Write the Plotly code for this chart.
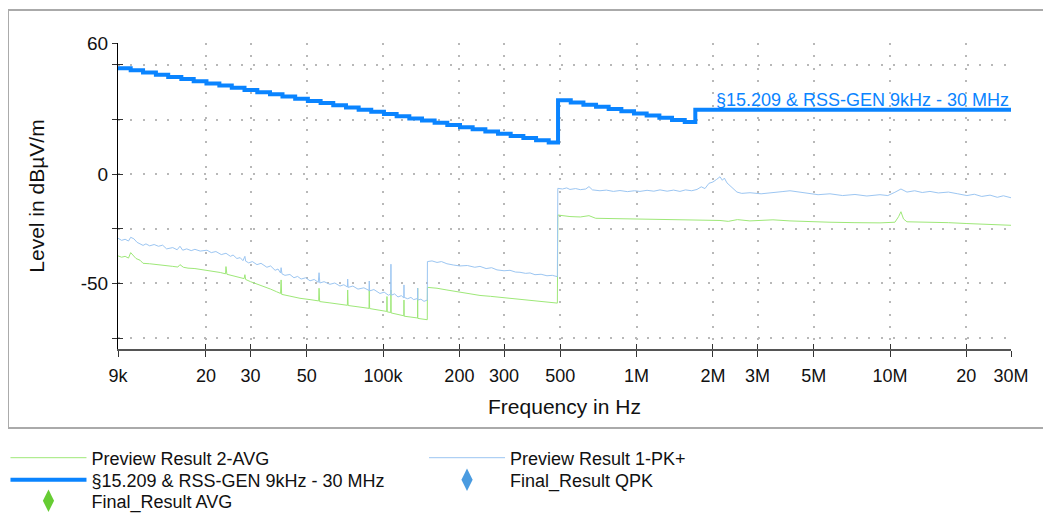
import math
import plotly.graph_objects as go

# ---------------- data ----------------
x_tick_hz = [9e3, 2e4, 3e4, 5e4, 1e5, 2e5, 3e5, 5e5, 1e6, 2e6, 3e6, 5e6, 1e7, 2e7, 3e7]
x_tick_text = ["9k", "20", "30", "50", "100k", "200", "300", "500", "1M", "2M", "3M", "5M", "10M", "20", "30M"]
y_tick_vals = [-75, -50, -25, 0, 25, 50, 60]
y_tick_text = ["", "-50", "", "0", "", "", "60"]

limit_name = "§15.209 & RSS-GEN 9kHz - 30 MHz"
limit_freq_khz = [9, 10.1, 11.3, 12.7, 14.2, 16.0, 17.9, 20.1, 22.6, 25.3, 28.4, 31.9, 35.8, 40.1,
                  45.0, 50.5, 56.7, 63.6, 71.4, 80.1, 89.8, 100.8, 113.1, 126.9, 142.4, 159.7, 179.2,
                  201.1, 225.6, 253.2, 284.1, 318.7, 357.6, 401.3, 450.2,
                  490, 550, 617, 692, 776, 871, 977, 1096, 1230, 1380, 1549,
                  1705, 30000]
limit_level = [48.5, 47.5, 46.5, 45.5, 44.5, 43.5, 42.5, 41.5, 40.5, 39.5, 38.5, 37.5, 36.5, 35.5,
               34.5, 33.5, 32.5, 31.5, 30.5, 29.5, 28.5, 27.5, 26.5, 25.5, 24.5, 23.5, 22.5,
               21.5, 20.5, 19.5, 18.5, 17.5, 16.5, 15.5, 14.5,
               33.8, 32.8, 31.8, 30.8, 29.8, 28.8, 27.8, 26.8, 25.8, 24.8, 23.8,
               29.5, 29.5]

pk_freq_khz = [9.0, 9.3, 9.6, 9.9, 10.1, 10.4, 10.7, 11.0, 11.3, 11.6, 12.0, 12.5, 13.0, 13.5, 14.0,
               14.8, 15.4, 15.8, 16.2, 16.8, 17.5, 18.1, 19.0, 20.2, 21.0, 21.9, 23.0, 24.0, 25.0,
               25.6, 26.5, 27.3, 28.0, 28.5, 28.7, 29.5, 30.5, 31.8, 33.0, 34.8, 36.0, 37.5, 38.5,
               39.4, 39.6, 39.9, 41.0, 42.9, 44.5, 46.0, 47.5, 49.5, 51.5, 53.5, 55.5, 55.9, 56.3,
               58.5, 61.7, 64.5, 67.6, 70.0, 72.3, 72.5, 72.8, 76.0, 79.6, 84.0, 88.0, 88.2, 88.5,
               92.0, 97.2, 101.0, 105.0, 107.2, 107.4, 107.6, 111.0, 114.5, 118.0, 120.7, 120.9,
               121.1, 125.0, 128.8, 132.0, 136.7, 136.9, 137.1, 141.0, 145.0, 149.4, 149.6, 156.0,
               163.2, 170.0, 178.6, 190.0, 201.1, 215.0, 230.0, 241.1, 255.0, 268.0, 281.4, 300.0,
               316.7, 333.0, 346.7, 365.0, 380.0, 397.4, 420.0, 443.1, 465.0, 487.0, 489.0, 510.0,
               530.0, 546.0, 575.0, 600.0, 630.0, 649.0, 670.0, 717.0, 760.0, 810.0, 860.0, 920.0,
               980.0, 1031.0, 1100.0, 1170.0, 1237.0, 1320.0, 1400.0, 1483.0, 1560.0, 1650.0,
               1731.0, 1800.0, 1861.0, 1930.0, 2001.0, 2070.0, 2133.0, 2180.0, 2220.0, 2273.0,
               2380.0, 2489.0, 2600.0, 2802.0, 3100.0, 3451.0, 3750.0, 4029.0, 4350.0, 4700.0,
               5200.0, 5793.0, 6500.0, 7270.0, 8100.0, 9124.0, 9800.0, 10450.0, 11040.0, 11660.0,
               12500.0, 13400.0, 14370.0, 15500.0, 17000.0, 18500.0, 20100.0, 21500.0, 23000.0,
               24800.0, 26500.0, 28000.0, 30000.0]
pk_level = [-29.3, -30.3, -29.8, -30.6, -28.9, -29.6, -31.2, -31.8, -32.6, -31.9, -32.8, -32.2, -33.0,
            -32.5, -34.2, -33.6, -34.6, -33.0, -34.8, -34.2, -35.0, -34.4, -35.2, -34.8, -35.9, -35.4,
            -36.8, -36.2, -37.6, -37.0, -38.6, -38.2, -39.6, -37.6, -39.8, -40.6, -40.0, -41.4, -40.8,
            -42.6, -42.0, -44.0, -43.4, -45.2, -42.8, -45.6, -46.3, -45.9, -47.4, -46.8, -48.0, -47.4,
            -48.8, -48.2, -49.5, -45.1, -49.8, -49.2, -50.4, -49.8, -51.2, -50.6, -51.6, -48.0, -51.8,
            -51.2, -52.6, -52.0, -53.2, -48.9, -53.4, -52.8, -54.6, -54.0, -55.4, -54.8, -41.2, -55.4,
            -54.8, -56.2, -55.6, -56.6, -50.7, -56.4, -57.0, -56.4, -57.4, -56.9, -52.2, -57.6, -57.2,
            -58.2, -57.6, -40.0, -39.7, -40.4, -40.0, -41.0, -41.6, -42.0, -41.8, -42.6, -42.2, -43.2,
            -42.8, -43.8, -44.2, -44.0, -44.8, -44.9, -45.4, -45.2, -46.0, -45.8, -46.5, -46.3, -46.9,
            -6.5, -6.8, -6.3, -7.0, -6.6, -7.1, -6.8, -5.7, -7.2, -7.6, -7.3, -7.9, -7.5, -8.0, -7.6,
            -7.9, -7.4, -7.8, -7.2, -7.8, -7.3, -7.9, -7.2, -7.6, -7.0, -5.8, -6.6, -4.2, -3.6, -2.4,
            -1.2, -2.8, -1.8, -4.0, -6.0, -8.2, -8.8, -8.5, -9.0, -8.6, -8.0, -7.6, -8.2, -8.6, -9.4,
            -9.0, -9.8, -9.3, -10.0, -9.4, -9.8, -8.3, -6.8, -8.2, -7.6, -8.4, -7.9, -8.6, -8.2, -9.0,
            -9.8, -9.2, -10.2, -9.6, -10.6, -9.9, -10.8]

avg_freq_khz = [9.0, 9.3, 9.6, 9.9, 10.1, 10.3, 10.6, 11.0, 11.3, 12.0, 13.0, 14.0, 14.8, 15.5, 15.8,
                16.3, 17.0, 18.1, 19.2, 20.2, 21.5, 22.8, 23.9, 24.0, 24.2, 25.6, 27.0, 28.3, 28.5,
                28.7, 30.0, 31.8, 34.0, 36.0, 38.0, 39.4, 39.6, 39.8, 42.9, 47.0, 51.5, 55.7, 55.9,
                56.2, 61.7, 67.6, 72.3, 72.5, 72.8, 79.6, 88.0, 88.2, 88.5, 97.2, 103.4, 103.6, 103.8,
                107.2, 107.4, 107.6, 114.5, 120.7, 120.9, 121.1, 128.8, 136.7, 136.9, 137.1, 145.0,
                149.4, 149.6, 163.2, 178.6, 201.1, 220.0, 241.1, 265.0, 281.4, 316.7, 346.7, 397.4,
                443.1, 487.0, 489.0, 546.0, 600.0, 649.0, 690.0, 860.0, 1237.0, 1731.0, 2133.0,
                2300.0, 2500.0, 2800.0, 3451.0, 4029.0, 4700.0, 5793.0, 7270.0, 9124.0, 10450.0,
                10800.0, 11040.0, 11300.0, 11660.0, 14370.0, 17000.0, 20100.0, 24800.0, 30000.0]
avg_level = [-37.4, -38.0, -37.6, -38.4, -35.9, -37.0, -38.6, -39.4, -40.8, -41.0, -41.4, -41.6, -42.2,
             -42.5, -41.4, -42.6, -43.0, -43.2, -43.6, -44.0, -44.4, -45.0, -45.6, -42.3, -45.8, -46.4,
             -47.0, -47.8, -46.0, -48.2, -49.2, -50.2, -51.4, -52.6, -53.8, -54.6, -48.4, -55.0, -55.8,
             -56.8, -57.4, -58.0, -52.2, -58.3, -58.9, -59.6, -60.0, -53.0, -60.1, -60.7, -61.4, -53.0,
             -61.5, -62.3, -62.8, -56.0, -63.0, -63.3, -53.0, -63.5, -64.2, -64.8, -57.6, -65.0, -65.4,
             -65.8, -52.1, -66.0, -66.4, -66.6, -51.8, -52.2, -53.0, -54.0, -54.8, -55.5, -55.9, -56.2,
             -56.6, -57.2, -58.0, -58.6, -59.0, -18.7, -19.4, -19.6, -19.0, -20.2, -20.4, -20.6, -21.0,
             -21.2, -21.6, -20.8, -21.4, -20.9, -21.4, -21.8, -22.0, -22.2, -22.3, -22.0, -19.5, -17.2,
             -20.5, -21.8, -21.9, -22.2, -22.6, -23.0, -23.4]

# ---------------- styling ----------------
FONT = "Liberation Sans, Arial, sans-serif"
LIMIT_COLOR = "#0a84ff"
PK_COLOR = "#9cc6f2"
AVG_COLOR = "#9ee878"
LEG_FONT = 18
ITEM_W = 76


def hz(lst):
    return [v * 1000.0 for v in lst]


fig = go.Figure()

fig.add_trace(go.Scatter(x=hz(avg_freq_khz), y=avg_level, mode="lines", name="Preview Result 2-AVG",
                         line=dict(color=AVG_COLOR, width=1), legend="legend", hoverinfo="skip"))
fig.add_trace(go.Scatter(x=hz(pk_freq_khz), y=pk_level, mode="lines", name="Preview Result 1-PK+",
                         line=dict(color=PK_COLOR, width=1), legend="legend4", hoverinfo="skip"))
fig.add_trace(go.Scatter(x=hz(limit_freq_khz), y=limit_level, mode="lines", name=limit_name,
                         line=dict(color=LIMIT_COLOR, width=4, shape="hv"), legend="legend2"))
fig.add_trace(go.Scatter(x=[None], y=[None], mode="markers", name="Final_Result AVG",
                         marker=dict(symbol="diamond-tall", size=16, color="#66cc33"),
                         legend="legend3", xaxis="x2", yaxis="y2"))
fig.add_trace(go.Scatter(x=[None], y=[None], mode="markers", name="Final_Result QPK",
                         marker=dict(symbol="diamond-tall", size=16, color="#4a9be0"),
                         legend="legend5", xaxis="x2", yaxis="y2"))

x_range = [math.log10(9e3), math.log10(3e7)]
grid_common = dict(showgrid=True, gridcolor="#b8b8b8", gridwidth=2, griddash="2px,10.3px")


def leg(xp, yp):
    return dict(x=xp, y=yp, xanchor="left", yanchor="middle", orientation="v",
                font=dict(size=LEG_FONT, family=FONT, color="#111"), itemwidth=ITEM_W,
                bgcolor="rgba(0,0,0,0)", borderwidth=0)


fig.update_layout(
    width=1043, height=513,
    margin=dict(l=110, r=40, t=35, b=172, autoexpand=False),
    paper_bgcolor="white", plot_bgcolor="white",
    font=dict(family=FONT, size=17, color="#111"),
    xaxis=dict(type="log", range=x_range, tickvals=x_tick_hz, ticktext=x_tick_text,
               ticks="outside", ticklen=6, tickcolor="#333", showline=True, linecolor="#555",
               linewidth=2, zeroline=False, tickfont=dict(size=18), ticklabelstandoff=3,
               automargin=False,
               title=dict(text="Frequency in Hz", font=dict(size=21), standoff=15),
               **grid_common),
    yaxis=dict(range=[-80, 60], tickvals=y_tick_vals, ticktext=y_tick_text, ticks="outside",
               ticklen=5, tickcolor="#333", showline=True, linecolor="#000", linewidth=1,
               zeroline=False, tickfont=dict(size=19), automargin=False,
               title=dict(text="Level in dBµV/m", font=dict(size=21), standoff=30),
               **grid_common),
    xaxis2=dict(type="log", overlaying="x", matches="x", anchor="y", side="bottom",
                tickvals=x_tick_hz, ticks="inside", ticklen=5, tickcolor="#333",
                showticklabels=False, showgrid=False, showline=False, zeroline=False),
    yaxis2=dict(overlaying="y", matches="y", anchor="x", side="left",
                tickvals=y_tick_vals, ticks="inside", ticklen=5, tickcolor="#333",
                showticklabels=False, showgrid=False, showline=False, zeroline=False),
    legend=leg(-0.126, -0.3562),
    legend2=leg(-0.126, -0.4281),
    legend3=leg(-0.126, -0.4967),
    legend4=leg(0.3427, -0.3562),
    legend5=leg(0.3427, -0.4281),
    showlegend=True,
    shapes=[dict(type="rect", xref="paper", yref="paper", x0=-0.1232, x1=1.0414,
                 y0=-0.258, y1=1.1078, line=dict(color="#aaaaaa", width=2), layer="below")],
    annotations=[dict(x=math.log10(3e7), y=29.5, xref="x", yref="y", text=limit_name,
                      showarrow=False, xanchor="right", yanchor="bottom", yshift=-2,
                      font=dict(size=18, color=LIMIT_COLOR, family=FONT))],
)

fig.write_html("out.html")
